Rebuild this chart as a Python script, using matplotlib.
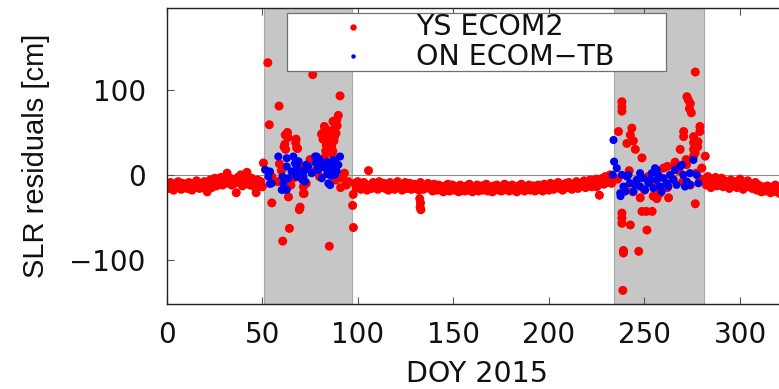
import numpy as np
import matplotlib
matplotlib.use("Agg")
import matplotlib.pyplot as plt
from matplotlib.patches import Rectangle
from matplotlib.lines import Line2D

# ---------------- data ----------------
# eclipse seasons (shaded)
eclipse_seasons = [(50.8, 97.0), (233.8, 281.0)]

# YS ECOM2 residuals outside eclipse seasons, sampled every 0.8 day
base_step = 0.8
base1_start = 0.4
base1_res = [-12, -16, -9, -14, -18, -11, -15, -8, -13, -17,
             -10, -14, -12, -16, -9, -13, -18, -11, -15, -7,
             -12, -16, -10, -14, -8, -13, -20, -11, -6, -15,
             -9, -4, -13, -7, -11, -3, -12, -6, -10, 2,
             -8, -4, -12, -6, -10, -21, -3, -9, 0, -13,
             -5, -10, 3, -7, -12, -4, -9, -14, -21, -6,
             -11, -8, -14]
base2_start = 97.6
base2_res = [-23, -10, -15, -8, -13, -17, -11, -9, -14, -18,
             5, -12, -16, -9, -14, -11, -17, -8, -13, -15,
             -10, -16, -12, -18, -9, -14, -11, -17, -13, -8,
             -15, -11, -18, -12, -9, -16, -13, -10, -17, -14,
             -11, -16, -12, -18, -9, -14, -17, -12, -15, -10,
             -16, -13, -19, -11, -15, -18, -12, -17, -14, -20,
             -13, -17, -11, -19, -15, -12, -18, -14, -16, -20,
             -12, -17, -15, -19, -13, -18, -11, -16, -20, -14,
             -17, -12, -19, -15, -13, -18, -16, -11, -19, -14,
             -16, -20, -13, -17, -12, -18, -15, -19, -14, -11,
             -17, -13, -19, -15, -12, -18, -16, -20, -13, -17,
             -11, -16, -19, -14, -17, -12, -18, -15, -13, -19,
             -15, -12, -17, -14, -19, -11, -16, -13, -18, -10,
             -14, -17, -11, -15, -9, -16, -12, -18, -13, -10,
             -15, -9, -13, -17, -11, -14, -8, -16, -12, -10,
             -13, -7, -15, -10, -12, -6, -14, -9, -11, -5,
             -12, -24, -8, -4, -11, -2, -9, -6, 0, -10]
base3_start = 281.6
base3_res = [-5, -12, -2, -9, -15, -6, -11, -3, -13, -8,
             -10, -4, -14, -7, -12, -9, -16, -6, -11, -13,
             -8, -15, -10, -5, -13, -17, -9, -12, -7, -14,
             -11, -16, -13, -9, -18, -12, -15, -20, -14, -17,
             -19, -13, -16, -21, -15, -18, -12, -20, -17, -22,
             -16, -19, -14, -21, -18]

# YS ECOM2 isolated residuals (eclipse seasons and outliers)
ys_doy = [50.6, 52.9, 53.7, 55.0, 58.8, 60.7, 61.4, 62.8, 63.7, 64.2,
          67.7, 68.0, 69.4, 69.8, 71.9, 71.5, 76.4, 85.1, 89.0, 90.7,
          89.8, 87.0, 82.0, 83.0, 84.0, 85.0, 86.0, 87.5, 84.5, 86.3,
          88.0, 83.5, 85.5, 81.0, 55.0, 58.0, 60.0, 65.0, 67.0, 70.0,
          73.0, 75.0, 78.0, 80.0, 82.5, 86.5, 88.5, 92.0, 94.0, 95.0,
          93.0, 91.0, 59.0, 71.5, 97.3, 97.7, 132.4, 132.8, 132.6, 133.0,
          62.0, 63.5, 67.5, 61.8, 68.5, 82.5, 84.2, 86.8, 88.6, 85.8,
          83.2, 87.8, 84.8, 81.8, 89.2, 86.9, 62.2, 63.2,
          276.6, 272.2, 274.0, 273.5, 274.5, 238.2, 238.2, 238.2, 236.4, 243.4,
          242.6, 240.8, 245.2, 248.7, 270.5, 270.5, 268.7, 275.7, 275.7, 275.7,
          275.7, 279.0, 279.0, 281.8, 278.0, 238.2, 238.2, 238.2, 242.6, 251.3,
          248.7, 251.0, 254.0, 239.0, 239.0, 247.0, 238.7, 247.8, 254.6, 262.6,
          276.6, 256.5, 236.0, 240.0, 244.0, 250.0, 255.0, 258.0, 262.0, 265.0,
          268.0, 270.0, 272.0, 274.0, 277.0, 279.0, 280.0, 266.0, 260.0, 252.0,
          246.0, 242.0, 262.0, 266.0, 225.0, 244.2, 273.0, 276.5, 277.8, 271.8]
ys_res = [14, 132, 59, -33, 81, -78, 33, 47, -26, -63,
          42, 32, -41, -38, -22, -14, 118, -84, 65, 93,
          70, 63, 50, 44, 38, 52, 46, 40, 30, 33,
          55, 35, 41, 48, -2, -8, 5, -12, -3, 10,
          -10, 18, 5, -2, 20, 25, -6, -4, -12, -8,
          2, -15, 13, -22, -36, -62, -28, -33, -38, -41,
          47, 44, 38, 36, 31, 57, 47, 51, 49, 36,
          28, 45, 27, 42, 58, 28, 30, 50,
          121, 92, 84, 78, 73, 86, 80, 75, 51, 55,
          47, 37, 30, 20, 51, 45, 30, 45, 38, 30,
          22, 57, 51, 22, 39, -45, -51, -57, -59, -65,
          -43, -43, -43, -89, -92, -90, -136, -27, -25, -27,
          -34, -28, -5, -15, -20, -18, -10, -22, -15, -5,
          5, -8, 12, -12, 2, -5, 8, 15, 8, -2,
          -8, 5, 10, 11, -14, 40, 88, 26, 33, 18]

# ON ECOM-TB residuals (eclipse seasons)
on_doy = [58.4, 62.8, 54.0, 53.2, 54.9, 61.0, 62.8, 60.2, 67.1, 68.9,
          71.5, 74.1, 72.4, 77.6, 79.3, 82.8, 85.5, 87.2, 89.8, 90.7,
          84.6, 81.1, 88.1, 65.4, 68.0, 75.9, 63.7, 83.0, 84.0, 85.0,
          86.0, 87.0, 88.0, 89.0, 86.0, 84.0, 82.0, 80.0, 81.0, 79.0,
          78.0, 66.3, 78.5, 51.5, 54.0, 61.0, 85.5, 68.0, 70.0, 72.0,
          73.0, 69.0, 71.0, 62.8, 60.6,
          233.8, 234.1, 233.4, 235.5, 237.3, 237.5, 239.0, 240.8, 242.4, 244.2,
          245.9, 247.7, 249.4, 252.0, 253.8, 255.5, 256.4, 258.1, 259.9, 261.6,
          263.4, 266.0, 268.6, 270.3, 272.1, 273.8, 275.6, 277.3, 278.2, 273.8,
          241.6, 245.0, 250.3, 254.7, 259.0, 262.5, 253.0, 257.3, 265.1, 266.8,
          271.2, 238.2, 240.0, 269.6, 256.4, 247.7]
on_res = [21.6, 19.6, 4, -2, -10, -10, -17.6, -17.6, 13.7, 5.9,
          -2, 9.8, -7.8, 21.6, 5.9, 13.7, 5.9, 17.6, 11.8, 21.6,
          -10, -4, 0, 4, -2, 2, -4, 8, 15, 3,
          12, 6, 16, 4, -1, 1, 10, 18, 12, 8,
          14, 21.6, 21.6, 6, -10.6, -17.6, -12, 10, -3, 5,
          12, 16, -6, 9.8, -2,
          41, 15.6, 0, 8, -21.6, -25, -13.7, -2, -9.8, -19.6,
          -5.9, -13.7, -3.9, -9.8, 2, 7.8, -5.9, -13.7, -3.9, -9.8,
          0, 5.9, 9.8, 0, -7.8, -11.8, 17.6, 0, -9.8, 2,
          0, -11.8, -17.6, -15.7, -19.6, -13.7, -6, 0, -5.9, -11.8,
          -13.7, 0, -19.6, 11.8, 5.9, 2]

x_ticks = [0, 50, 100, 150, 200, 250, 300]
y_ticks = [-100, 0, 100]
x_range = (0, 325)
y_range = (-152, 197)

# ---------------- figure ----------------
W, H = 779, 389
fig = plt.figure(figsize=(W / 100, H / 100), dpi=100)
ax = fig.add_axes([166.7 / W, 85 / H, (787.8 - 166.7) / W, (304 - 7.5) / H])

tick_font = dict(family="DejaVu Sans", size=20)

for x0, x1 in eclipse_seasons:
    ax.axvspan(x0, x1, facecolor="#c6c6c6", edgecolor="#a8a8a8",
               linewidth=0.8, zorder=0)
ax.axhline(0, color="#8c8c8c", linewidth=0.8, zorder=1)

def segment(start, values):
    days = start + base_step * np.arange(len(values))
    return days, np.asarray(values, dtype=float)

red = "#ff0000"
blue = "#0000f0"
for start, vals in [(base1_start, base1_res), (base2_start, base2_res),
                    (base3_start, base3_res)]:
    d, v = segment(start, vals)
    ax.scatter(d, v, s=42, color=red, edgecolors="none", zorder=2)
ax.scatter(ys_doy, ys_res, s=42, color=red, edgecolors="none", zorder=2)
ax.scatter(on_doy, on_res, s=34, color=blue, edgecolors="none", zorder=3)

ax.set_xlim(*x_range)
ax.set_ylim(*y_range)
ax.set_xticks(x_ticks)
ax.set_yticks(y_ticks)
ax.set_yticklabels(["\u2212100", "0", "100"])
ax.tick_params(axis="both", direction="in", length=5, width=0.8,
               color="#555555", top=True, right=True)
ax.tick_params(axis="x", pad=12)
ax.tick_params(axis="y", pad=15)
for lab in ax.get_xticklabels() + ax.get_yticklabels():
    lab.set_fontfamily(tick_font["family"])
    lab.set_fontsize(tick_font["size"])
    lab.set_color("#111111")
for sp in ax.spines.values():
    sp.set_linewidth(1.0)
    sp.set_color("#222222")

ax.set_xlabel("DOY 2015", family="DejaVu Sans", fontsize=20.5,
              color="#111111", labelpad=8)
ax.set_ylabel("SLR residuals [cm]", family="Liberation Sans", fontsize=21,
              color="#111111", labelpad=14)

# key box
fx = lambda px: px / W
fy = lambda py: 1 - py / H
fig.patches.append(Rectangle((fx(287), fy(71)), fx(666) - fx(287), fy(13) - fy(71),
                             transform=fig.transFigure, facecolor="white",
                             edgecolor="#707070", linewidth=0.9, zorder=5))
fig.lines.append(Line2D([fx(353)], [fy(27)], transform=fig.transFigure,
                        marker="o", markersize=4.6, color=red,
                        markeredgewidth=0, linestyle="none", zorder=6))
fig.lines.append(Line2D([fx(353)], [fy(56)], transform=fig.transFigure,
                        marker="o", markersize=3.2, color=blue,
                        markeredgewidth=0, linestyle="none", zorder=6))
fig.text(fx(416), fy(27), "YS ECOM2", family="DejaVu Sans", fontsize=20.5,
         va="center", ha="left", color="#111111", zorder=6)
fig.text(fx(416), fy(57), "ON ECOM\u2212TB", family="DejaVu Sans", fontsize=20.5,
         va="center", ha="left", color="#111111", zorder=6)

fig.savefig("out.png", dpi=100)
